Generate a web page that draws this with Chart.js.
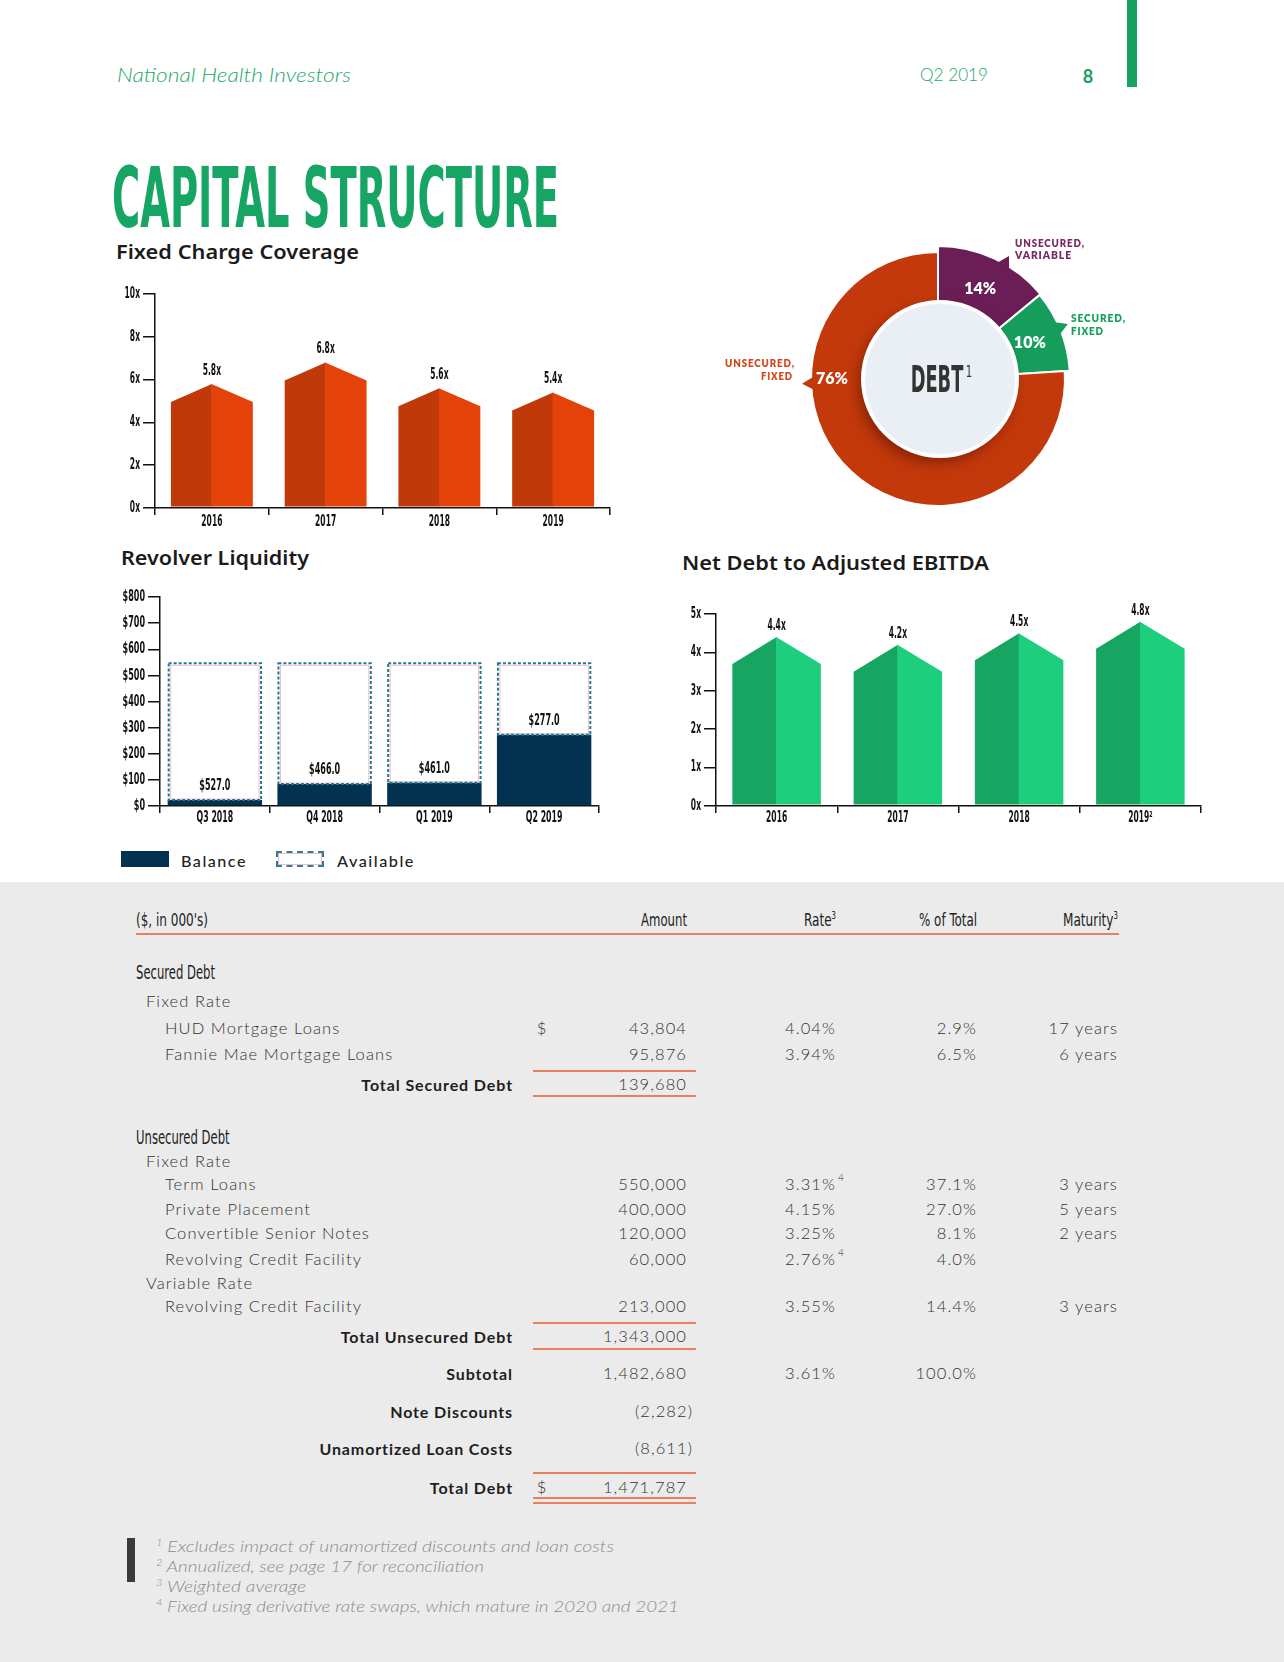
<!DOCTYPE html>
<html lang="en">
<head>
<meta charset="UTF-8">
<title>Capital Structure</title>
<script src="https://cdn.jsdelivr.net/npm/chart.js"></script>
<style>
  html, body { margin: 0; padding: 0; background: #fff; }
  #page { position: relative; width: 1284px; height: 1662px; overflow: hidden; background: #fff; }
  .abs { position: absolute; white-space: nowrap; transform-origin: left center; line-height: 1.15; }
  .box { position: absolute; }
  sup { font-size: 58%; vertical-align: 0.7em; line-height: 0; }
</style>
</head>
<body>
<div id="page">
  <div class="box" style="left:0;top:882px;width:1284px;height:780px;background:#ebebeb"></div>
  <div class="box" style="left:1127px;top:0;width:10px;height:87px;background:#16a261"></div>

  <div class="box" style="left:90px;top:270px;width:540px;height:270px"><canvas id="fcc" width="540" height="270"></canvas></div>
  <div class="box" style="left:778px;top:219px;width:320px;height:320px"><canvas id="debt" width="320" height="320"></canvas></div>
  <div class="box" style="left:100px;top:575px;width:520px;height:265px"><canvas id="rev" width="520" height="265"></canvas></div>
  <div class="box" style="left:650px;top:590px;width:575px;height:250px"><canvas id="nd" width="575" height="250"></canvas></div>

  <div class="box" style="left:121px;top:851px;width:48px;height:16px;background:#033150"></div>
  <div class="box" style="left:276px;top:851px;width:44px;height:12px;border:2px dashed #2a7f95;box-shadow:inset 0 0 0 1px #f4b9ca"></div>
</div>

<script>
// Fixed Charge Coverage
const fccYears = ['2016', '2017', '2018', '2019'];
const fccValues = [5.8, 6.8, 5.6, 5.4];

// Revolver Liquidity ($ millions)
const revQuarters = ['Q3 2018', 'Q4 2018', 'Q1 2019', 'Q2 2019'];
const revBalance = [23, 84, 89, 273];
const revAvailable = [527, 466, 461, 277];

// Net Debt to Adjusted EBITDA
const ndYears = ['2016', '2017', '2018', '2019²'];
const ndValues = [4.4, 4.2, 4.5, 4.8];

// Debt mix
const debtLabels = ['Unsecured, Variable', 'Secured, Fixed', 'Unsecured, Fixed'];
const debtShares = [14, 10, 76];

// Debt table
const tableCols = ["($, in 000's)", 'Amount', 'Rate<sup>3</sup>', '% of Total', 'Maturity<sup>3</sup>'];
const rowLabels = ['Secured Debt', 'Fixed Rate', 'HUD Mortgage Loans', 'Fannie Mae Mortgage Loans', 'Total Secured Debt',
  'Unsecured Debt', 'Fixed Rate', 'Term Loans', 'Private Placement', 'Convertible Senior Notes', 'Revolving Credit Facility',
  'Variable Rate', 'Revolving Credit Facility', 'Total Unsecured Debt', 'Subtotal', 'Note Discounts', 'Unamortized Loan Costs', 'Total Debt'];
const rowKinds = ['section', 'group', 'item', 'item', 'total', 'section', 'group', 'item', 'item', 'item', 'item',
  'group', 'item', 'total', 'total', 'total', 'total', 'total'];
const rowAmounts = ['', '', '43,804', '95,876', '139,680', '', '', '550,000', '400,000', '120,000', '60,000',
  '', '213,000', '1,343,000', '1,482,680', '(2,282)', '(8,611)', '1,471,787'];
const rowRates = ['', '', '4.04%', '3.94%', '', '', '', '3.31%', '4.15%', '3.25%', '2.76%', '', '3.55%', '', '3.61%', '', '', ''];
const rowRateNotes = ['', '', '', '', '', '', '', '4', '', '', '4', '', '', '', '', '', '', ''];
const rowPcts = ['', '', '2.9%', '6.5%', '', '', '', '37.1%', '27.0%', '8.1%', '4.0%', '', '14.4%', '', '100.0%', '', '', ''];
const rowMaturity = ['', '', '17 years', '6 years', '', '', '', '3 years', '5 years', '2 years', '', '', '3 years', '', '', '', '', ''];
const rowDollar = [false, false, true, false, false, false, false, false, false, false, false, false, false, false, false, false, false, true];
const footnotes = ['Excludes impact of unamortized discounts and loan costs', 'Annualized, see page 17 for reconciliation',
  'Weighted average', 'Fixed using derivative rate swaps, which mature in 2020 and 2021'];

// ---------- layout ----------
const rowY = [973, 1001, 1028, 1054, 1084, 1138, 1161, 1184, 1209, 1233, 1259, 1283, 1306, 1336, 1373, 1411, 1448, 1487];
const ruleY = [1071, 1096, 1323, 1349, 1473, 1498, 1503];
const footY = [1546, 1566, 1586, 1606];
const footW = [458, 328, 150, 523];

const page = document.getElementById('page');
function put(html, x, y, st, align, w, k) {
  const d = document.createElement('div');
  d.className = 'abs';
  d.style.cssText += st;
  d.innerHTML = html;
  page.appendChild(d);
  const r = d.getBoundingClientRect();
  const s = w ? w / r.width : (k || 1);
  const vw = r.width * s;
  const left = align === 'r' ? x - vw : align === 'c' ? x - vw / 2 : x;
  d.style.left = left + 'px';
  d.style.top = (y - r.height / 2) + 'px';
  if (s !== 1) d.style.transform = 'scaleX(' + s + ')';
  return d;
}
function rule(x1, x2, y, w, c) {
  const d = document.createElement('div');
  d.className = 'box';
  d.style.cssText += 'left:' + x1 + 'px;top:' + (y - w / 2) + 'px;width:' + (x2 - x1) + 'px;height:' + w + 'px;background:' + c;
  page.appendChild(d);
}

const COND = "font-family:'DejaVu Sans Condensed','DejaVu Sans',sans-serif;";
const BODY = "font:300 16.5px Lato,'Noto Sans',sans-serif;color:#333;letter-spacing:1.1px;";
const BOLD = "font:700 16px Lato,'Noto Sans',sans-serif;color:#1e1e1e;letter-spacing:0.9px;";
const HEAD = "font:600 19px 'Noto Sans',Lato,sans-serif;color:#1b1b1b;";
const ORANGE = '#e8805f';

// header
put('National Health Investors', 117, 74, "font:italic 300 19px Lato,sans-serif;color:#22a867;", 'l', 234);
put('Q2 2019', 920, 74, "font:300 17px Lato,sans-serif;color:#22a867;", 'l', 68);
put('8', 1088, 76, "font:700 18px Lato,sans-serif;color:#16a261;", 'c');
put('CAPITAL STRUCTURE', 112, 198, COND + "font-weight:bold;font-size:84px;color:#16a563;line-height:1;", 'l', 447);

put('Fixed Charge Coverage', 116, 252, HEAD, 'l', 243);
put('Revolver Liquidity', 121, 558, HEAD, 'l', 188);
put('Net Debt to Adjusted EBITDA', 682, 563, HEAD, 'l', 307);

// donut callouts
const CALL = "font:800 11px Lato,sans-serif;letter-spacing:1px;";
put('UNSECURED,', 1015, 242, CALL + 'color:#7b2863', 'l', 70);
put('VARIABLE', 1015, 254, CALL + 'color:#7b2863', 'l', 57);
put('SECURED,', 1071, 317, CALL + 'color:#14a05c', 'l', 55);
put('FIXED', 1071, 330, CALL + 'color:#14a05c', 'l', 33);
put('UNSECURED,', 795, 362, CALL + 'color:#d2471b', 'r', 70);
put('FIXED', 793, 375, CALL + 'color:#d2471b', 'r', 32);

// legend text
put('Balance', 181, 860, "font:500 16px Lato,sans-serif;color:#222;letter-spacing:1.5px;", 'l', 66);
put('Available', 337, 860, "font:500 16px Lato,sans-serif;color:#222;letter-spacing:1.5px;", 'l', 78);

// table
const colRight = [0, 687, 836, 977, 1118];
const colW = [72, 46, 32, 58, 55];
const TH = COND + "font-size:18px;color:#222;";
put(tableCols[0], 136, 920, TH, 'l', colW[0]);
for (let c = 1; c < tableCols.length; c++) put(tableCols[c], colRight[c], 920, TH, 'r', colW[c]);
rule(136, 1119, 934, 2, ORANGE);

rowLabels.forEach((lab, i) => {
  const y = rowY[i], kind = rowKinds[i];
  if (kind === 'section') put(lab, 136, y, TH + 'font-size:19px;', 'l', null, 0.68);
  else if (kind === 'group') put(lab, 146, y, BODY, 'l');
  else if (kind === 'item') put(lab, 165, y, BODY, 'l');
  else put(lab, 513, y, BOLD, 'r');
  if (rowDollar[i]) put('$', 542, y, BODY, 'c');
  const a = rowAmounts[i];
  if (a) put(a, a[0] === '(' ? 693 : 687, y, BODY, 'r');
  if (rowRates[i]) put(rowRates[i], 836, y, BODY, 'r');
  if (rowRateNotes[i]) put(rowRateNotes[i], 838, y - 7, "font:300 10px Lato,sans-serif;color:#333;", 'l');
  if (rowPcts[i]) put(rowPcts[i], 977, y, BODY, 'r');
  if (rowMaturity[i]) put(rowMaturity[i], 1118, y, BODY, 'r');
});
ruleY.forEach(y => rule(533, 696, y, 2, ORANGE));

// footnotes
const fb = document.createElement('div');
fb.className = 'box';
fb.style.cssText += 'left:127px;top:1538px;width:8px;height:44px;background:#3a3a3a';
page.appendChild(fb);
footnotes.forEach((t, i) => put('<sup>' + (i + 1) + '</sup>&nbsp;' + t, 156, footY[i],
  "font:italic 300 15.5px Lato,sans-serif;color:#8c8c8c;", 'l', footW[i]));

// ---------- charts ----------
function condText(ctx, txt, x, y, font, k, align, color) {
  ctx.save();
  ctx.font = font;
  ctx.fillStyle = color;
  ctx.textAlign = align;
  ctx.textBaseline = 'middle';
  ctx.translate(x, y);
  ctx.scale(k, 1);
  ctx.fillText(txt, 0, 0);
  ctx.restore();
}
const CF = "'DejaVu Sans Condensed', 'DejaVu Sans', sans-serif";

const condTicks = {
  id: 'condTicks',
  afterDraw(chart, args, o) {
    const ctx = chart.ctx, ys = chart.scales.y, xs = chart.scales.x;
    ys.ticks.forEach((t, i) => condText(ctx, t.label, ys.right - 15, ys.getPixelForTick(i), o.yFont, o.yK, 'right', '#111'));
    xs.ticks.forEach((t, i) => condText(ctx, t.label, xs.getPixelForTick(i), xs.top + o.xGap, o.xFont, o.xK, 'center', '#111'));
  }
};

// pentagon "house" bars, two tones
const house = {
  id: 'house',
  afterDatasetsDraw(chart, args, o) {
    const ctx = chart.ctx;
    chart.getDatasetMeta(0).data.forEach((b, i) => {
      const l = b.x - b.width / 2, r = b.x + b.width / 2, sh = b.y + o.drop, base = b.base - 0.75;
      ctx.fillStyle = o.left;
      ctx.beginPath(); ctx.moveTo(l, base); ctx.lineTo(l, sh); ctx.lineTo(b.x, b.y); ctx.lineTo(b.x, base); ctx.closePath(); ctx.fill();
      ctx.fillStyle = o.right;
      ctx.beginPath(); ctx.moveTo(b.x - 0.5, base); ctx.lineTo(b.x - 0.5, b.y); ctx.lineTo(r, sh); ctx.lineTo(r, base); ctx.closePath(); ctx.fill();
      condText(ctx, chart.data.datasets[0].data[i].toFixed(1) + 'x', b.x, b.y - o.gap, "bold 15px " + CF, 0.56, 'center', '#111');
    });
  }
};

function barScales(max, step, fmt, yW, xH) {
  return {
    x: {
      grid: { drawOnChartArea: false, drawTicks: true, tickLength: 7, color: '#111', lineWidth: 1.5, offset: true },
      border: { color: '#111', width: 1.5 },
      ticks: { color: 'rgba(0,0,0,0)', autoSkip: false, maxRotation: 0 },
      afterFit(s) { s.height = xH; }
    },
    y: {
      min: 0, max: max,
      grid: { drawOnChartArea: false, drawTicks: true, tickLength: 12, color: '#111', lineWidth: 1.5 },
      border: { color: '#111', width: 1.5 },
      ticks: { stepSize: step, color: 'rgba(0,0,0,0)', callback: fmt },
      afterFit(s) { s.width = yW; }
    }
  };
}

new Chart(document.getElementById('fcc'), {
  type: 'bar',
  data: { labels: fccYears, datasets: [{ data: fccValues, backgroundColor: 'rgba(0,0,0,0)', barPercentage: 0.72, categoryPercentage: 1 }] },
  options: {
    responsive: false, animation: false,
    layout: { padding: { top: 24, right: 20, left: 0, bottom: 0 } },
    scales: barScales(10, 2, v => v + 'x', 65, 32),
    plugins: {
      legend: { display: false }, tooltip: { enabled: false },
      house: { left: '#c03908', right: '#e44208', drop: 18, gap: 13 },
      condTicks: { yFont: "bold 15px " + CF, yK: 0.56, xFont: "bold 15px " + CF, xK: 0.56, xGap: 14 }
    }
  },
  plugins: [house, condTicks]
});

new Chart(document.getElementById('nd'), {
  type: 'bar',
  data: { labels: ndYears, datasets: [{ data: ndValues, backgroundColor: 'rgba(0,0,0,0)', barPercentage: 0.73, categoryPercentage: 1 }] },
  options: {
    responsive: false, animation: false,
    layout: { padding: { top: 24, right: 24, left: 0, bottom: 0 } },
    scales: barScales(5, 1, v => v + 'x', 66, 34),
    plugins: {
      legend: { display: false }, tooltip: { enabled: false },
      house: { left: '#16a662', right: '#1dcf7d', drop: 27, gap: 11 },
      condTicks: { yFont: "bold 15px " + CF, yK: 0.56, xFont: "bold 15px " + CF, xK: 0.56, xGap: 12 }
    }
  },
  plugins: [house, condTicks]
});

// dashed "available" boxes on top of the balance bars
const dashBox = {
  id: 'dashBox',
  afterDatasetsDraw(chart, args, o) {
    const ctx = chart.ctx;
    chart.getDatasetMeta(1).data.forEach((b, i) => {
      const l = b.x - b.width / 2, t = b.y, w = b.width, h = b.base - b.y;
      ctx.save();
      ctx.strokeStyle = '#f4b9ca'; ctx.lineWidth = 1;
      ctx.strokeRect(l + 3, t + 3, w - 6, h - 4);
      ctx.strokeStyle = '#1f7a8f'; ctx.lineWidth = 2; ctx.setLineDash([3, 2]);
      ctx.strokeRect(l + 1, t + 1, w - 2, h - 1);
      ctx.restore();
      condText(ctx, '$' + chart.data.datasets[1].data[i].toFixed(1), b.x, b.base - 14, "bold 16px " + CF, 0.56, 'center', '#111');
    });
  }
};

const revScales = barScales(800, 100, v => '$' + v, 60, 34);
revScales.x.stacked = true;
revScales.y.stacked = true;
new Chart(document.getElementById('rev'), {
  type: 'bar',
  data: {
    labels: revQuarters,
    datasets: [
      { label: 'Balance', data: revBalance, backgroundColor: '#033150', barPercentage: 0.86, categoryPercentage: 1 },
      { label: 'Available', data: revAvailable, backgroundColor: 'rgba(255,255,255,0)', barPercentage: 0.86, categoryPercentage: 1 }
    ]
  },
  options: {
    responsive: false, animation: false,
    layout: { padding: { top: 22, right: 21, left: 0, bottom: 0 } },
    scales: revScales,
    plugins: {
      legend: { display: false }, tooltip: { enabled: false },
      condTicks: { yFont: "bold 16px " + CF, yK: 0.56, xFont: "bold 15px " + CF, xK: 0.58, xGap: 12 }
    }
  },
  plugins: [dashBox, condTicks]
});

// donut decorations: bigger small slices, pointer tabs, centre disc, labels
const donutDeco = {
  id: 'donutDeco',
  afterUpdate(chart, args, o) {
    chart.getDatasetMeta(0).data.forEach((a, i) => { a.outerRadius += o.grow[i]; });
  },
  afterDatasetsDraw(chart, args, o) {
    const ctx = chart.ctx, arcs = chart.getDatasetMeta(0).data;
    const cx = arcs[0].x, cy = arcs[0].y;
    const colors = chart.data.datasets[0].backgroundColor;
    arcs.forEach((a, i) => {
      const ang = (o.pointers[i] - 90) * Math.PI / 180, r0 = a.outerRadius - 2;
      ctx.fillStyle = colors[i];
      ctx.beginPath();
      ctx.moveTo(cx + r0 * Math.cos(ang - 0.05), cy + r0 * Math.sin(ang - 0.05));
      ctx.lineTo(cx + (r0 + 11) * Math.cos(ang), cy + (r0 + 11) * Math.sin(ang));
      ctx.lineTo(cx + r0 * Math.cos(ang + 0.05), cy + r0 * Math.sin(ang + 0.05));
      ctx.closePath(); ctx.fill();
    });
    ctx.save();
    ctx.shadowColor = 'rgba(60,10,0,0.5)'; ctx.shadowBlur = 14; ctx.shadowOffsetX = -4; ctx.shadowOffsetY = 6;
    ctx.beginPath(); ctx.arc(cx + 2, cy, o.disc, 0, Math.PI * 2); ctx.fillStyle = '#e9eff4'; ctx.fill();
    ctx.restore();
    ctx.beginPath(); ctx.arc(cx + 2, cy, o.disc, 0, Math.PI * 2); ctx.strokeStyle = '#fff'; ctx.lineWidth = 4; ctx.stroke();
    condText(ctx, 'DEBT', cx - 1, cy + 3, "bold 38px " + CF, 0.52, 'center', '#333');
    condText(ctx, '1', cx + 31, cy - 6, "16px " + CF, 0.7, 'center', '#333');
    arcs.forEach((a, i) => {
      let p;
      if (o.labelAt[i] !== null) {
        const ang = (o.labelAt[i] - 90) * Math.PI / 180;
        p = { x: cx + o.labelR * Math.cos(ang), y: cy + o.labelR * Math.sin(ang) };
      } else p = a.tooltipPosition();
      ctx.save();
      ctx.font = "800 16px Lato, sans-serif";
      ctx.fillStyle = '#fff'; ctx.textAlign = 'center'; ctx.textBaseline = 'middle';
      ctx.fillText(chart.data.datasets[0].data[i] + '%', p.x, p.y);
      ctx.restore();
    });
  }
};

new Chart(document.getElementById('debt'), {
  type: 'doughnut',
  data: {
    labels: debtLabels,
    datasets: [{ data: debtShares, backgroundColor: ['#6a1e55', '#169d5c', '#c4390b'], borderColor: '#fff', borderWidth: 2 }]
  },
  options: {
    responsive: false, animation: false,
    radius: 127, cutout: 82, rotation: 0,
    plugins: {
      legend: { display: false }, tooltip: { enabled: false },
      donutDeco: { grow: [6, 5, 0], pointers: [30, 67, 268], disc: 77, labelAt: [null, null, 270], labelR: 106 }
    }
  },
  plugins: [donutDeco]
});
</script>
</body>
</html>
